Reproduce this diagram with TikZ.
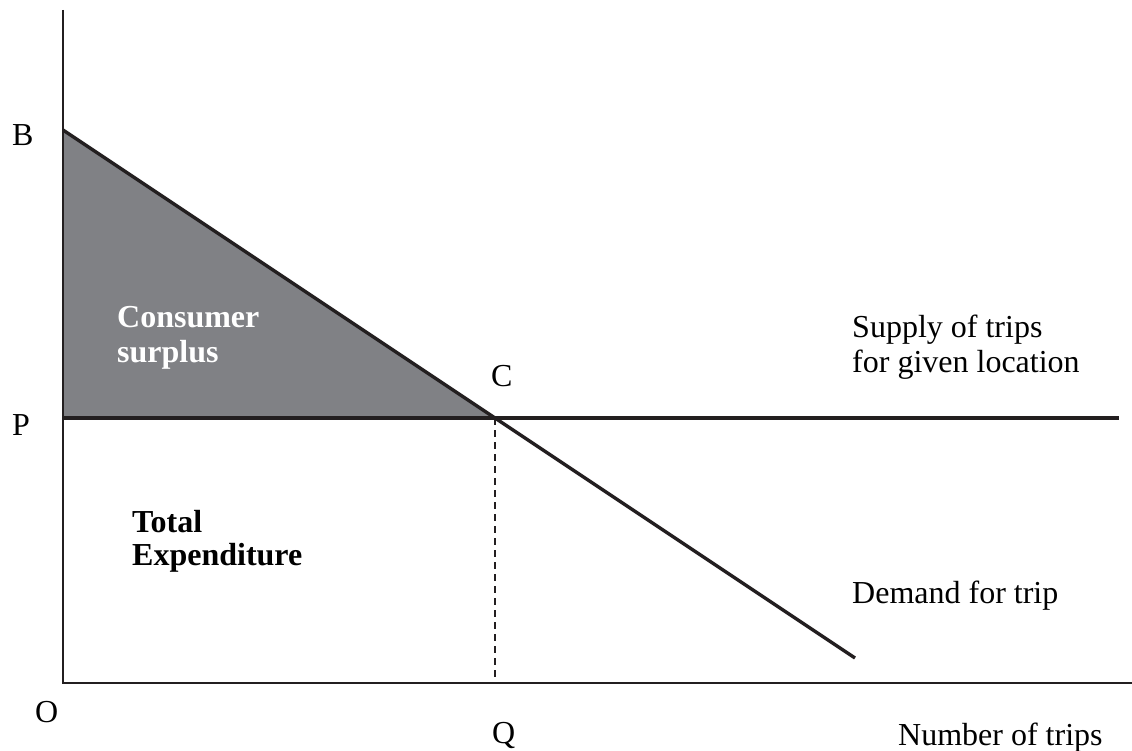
\documentclass[tikz,border=0pt]{standalone}
\usepackage{fontspec}
\setmainfont{Liberation Serif}
\definecolor{ink}{RGB}{35,31,32}
\definecolor{surplus}{RGB}{128,129,133}
\begin{document}
\begin{tikzpicture}[x=1pt,y=-1pt,
  lbl/.style={anchor=base west,inner sep=0pt,font=\fontsize{32}{35}\selectfont,text=black},
  blbl/.style={lbl,font=\fontsize{32}{35}\selectfont\bfseries},
  axis/.style={draw=ink,line width=2.3pt},
  curve/.style={draw=ink,line width=3.4pt},
  guide/.style={draw=ink,line width=1.6pt,dash pattern=on 7pt off 5pt}]
\useasboundingbox (0,0) rectangle (1132,751);
\coordinate (O) at (63,683);
\coordinate (Ytop) at (63,10);
\coordinate (Xend) at (1132,683);
\coordinate (B) at (63,130);
\coordinate (P) at (63,418);
\coordinate (C) at (495,418);
\coordinate (Q) at (495,683);
\coordinate (Dend) at (855,658);
\coordinate (Send) at (1119,418);
% shaded consumer surplus
\fill[surplus] (B) -- (C) -- (P) -- cycle;
% axes
\draw[axis] (Ytop) -- (O) -- (Xend);
% guide
\draw[guide] (C) -- (Q);
% supply and demand
\draw[curve] (P) -- (Send);
\draw[curve] (B) -- (Dend);
% labels
\node[lbl] (lB) at (12,146) {B};
\node[lbl] (lP) at (12,435) {P};
\node[lbl] (lO) at (35,722) {O};
\node[lbl] (lQ) at (492,743) {Q};
\node[lbl] (lC) at (491,386) {C};
\node[lbl] (lN) at (898,745) {Number of trips};
\node[lbl] (lD) at (852,603) {Demand for trip};
\node[lbl] (lS1) at (852,337) {Supply of trips};
\node[lbl] (lS2) at (852,372) {for given location};
\node[blbl,text=white] (lCS1) at (117,327) {Consumer};
\node[blbl,text=white] (lCS2) at (117,362) {surplus};
\node[blbl] (lT1) at (132,532) {Total};
\node[blbl] (lT2) at (132,565) {Expenditure};
\end{tikzpicture}
\end{document}
